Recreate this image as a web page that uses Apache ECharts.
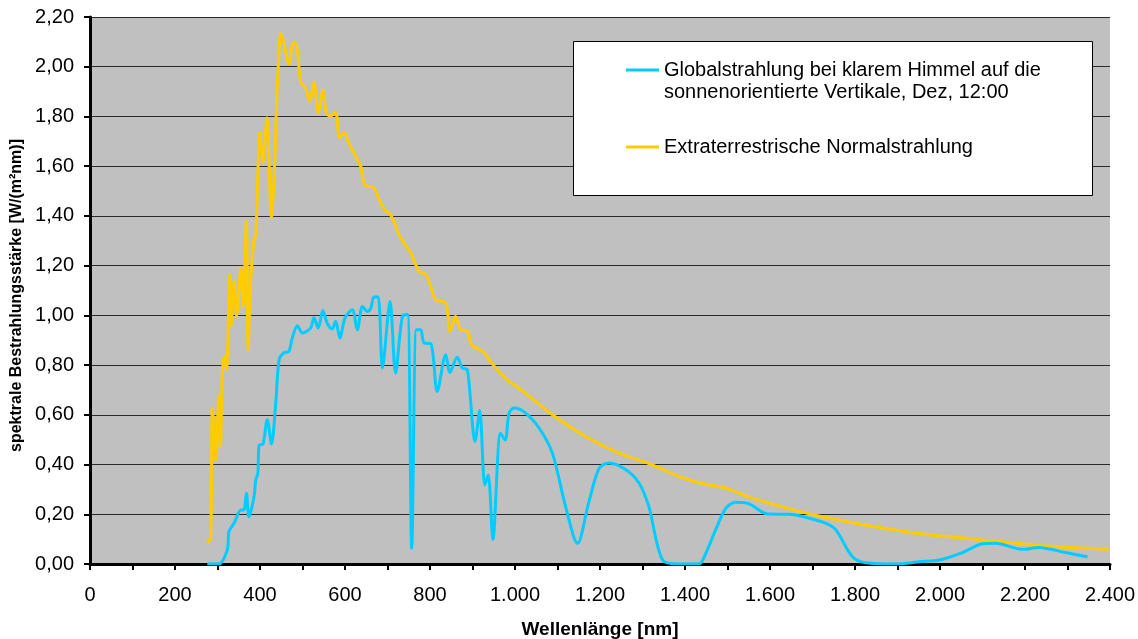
<!DOCTYPE html>
<html>
<head>
<meta charset="utf-8">
<script src="https://cdn.jsdelivr.net/npm/echarts@6/dist/echarts.min.js"></script>
<style>
  html, body { margin: 0; padding: 0; background: #fff; }
  #chart { width: 1138px; height: 639px; }
</style>
</head>
<body>
<div id="chart"></div>
<script>
// Wavelength grid (nm) and spectral irradiance (W/(m²nm)) per series
const globalNm = [276, 303, 323, 327, 339, 355, 362, 368, 374, 386,
  390, 395, 398, 407, 417, 427, 437, 445, 456, 468,
  476, 488, 500, 519, 527, 537, 548, 558, 570, 578,
  588, 600, 617, 629, 641, 653, 661, 668, 678, 688,
  706, 719, 735, 747, 757, 768, 778, 786, 802, 817,
  837, 847, 864, 876, 888, 906, 917, 929, 937, 948,
  966, 977, 986, 998, 1025, 1057, 1088, 1119, 1147, 1174,
  1198, 1221, 1261, 1292, 1315, 1347, 1386, 1433, 1449, 1472,
  1496, 1519, 1551, 1594, 1645, 1684, 1731, 1755, 1794, 1825,
  1896, 1951, 1998, 2053, 2100, 2131, 2194, 2233, 2257, 2296,
  2347];
const globalVal = [0, 0, 0.056, 0.13, 0.164, 0.217, 0.217, 0.285, 0.19, 0.271,
  0.338, 0.365, 0.479, 0.483, 0.58, 0.483, 0.647, 0.822, 0.849, 0.855,
  0.909, 0.958, 0.929, 0.949, 0.990, 0.949, 1.020, 0.969, 0.945, 0.976,
  0.909, 0.990, 1.023, 0.942, 1.036, 1.016, 1.030, 1.074, 1.074, 0.788,
  1.056, 0.768, 0.996, 1.003, 0.063, 0.942, 0.942, 0.889, 0.886, 0.694,
  0.842, 0.770, 0.832, 0.788, 0.781, 0.493, 0.617, 0.318, 0.358, 0.099,
  0.526, 0.499, 0.607, 0.627, 0.607, 0.546, 0.446, 0.231, 0.083, 0.251,
  0.385, 0.406, 0.379, 0.325, 0.231, 0.016, 0, 0, 0.043, 0.137,
  0.224, 0.248, 0.242, 0.201, 0.200, 0.188, 0.164, 0.137, 0.029, 0.005,
  0, 0.009, 0.016, 0.046, 0.081, 0.083, 0.059, 0.066, 0.06, 0.046,
  0.029];

const extraNm = [276, 284, 288, 296, 303, 307, 311, 315, 321, 329,
  332, 339, 345, 355, 360, 368, 372, 378, 386, 390,
  396, 399, 407, 416, 427, 435, 438, 443, 449, 456,
  468, 476, 482, 488, 496, 507, 517, 527, 537, 548,
  556, 566, 578, 587, 598, 609, 625, 637, 647, 668,
  680, 696, 707, 731, 755, 774, 790, 802, 813, 837,
  847, 860, 872, 888, 898, 927, 939, 955, 986, 1009,
  1088, 1166, 1245, 1323, 1386, 1433, 1496, 1558, 1715, 1935,
  2092, 2249, 2398];
const extraVal = [0.083, 0.11, 0.627, 0.419, 0.674, 0.472, 0.754, 0.835, 0.781, 1.164,
  0.956, 1.137, 0.996, 1.191, 1.036, 1.379, 0.862, 1.131, 1.305, 1.318,
  1.627, 1.735, 1.614, 1.795, 1.392, 1.627, 1.801, 2.003, 2.134, 2.097,
  2.010, 2.090, 2.097, 2.063, 1.936, 1.916, 1.862, 1.938, 1.815, 1.905,
  1.815, 1.801, 1.818, 1.714, 1.735, 1.694, 1.640, 1.600, 1.524, 1.513,
  1.466, 1.419, 1.406, 1.312, 1.251, 1.177, 1.164, 1.117, 1.063, 1.050,
  0.936, 0.996, 0.942, 0.936, 0.882, 0.851, 0.822, 0.788, 0.734, 0.708,
  0.600, 0.513, 0.446, 0.399, 0.352, 0.327, 0.305, 0.265, 0.193, 0.126,
  0.099, 0.072, 0.059];

const seriesNames = [
  'Globalstrahlung bei klarem Himmel auf die\nsonnenorientierte Vertikale, Dez, 12:00',
  'Extraterrestrische Normalstrahlung'
];
const xTitle = 'Wellenlänge [nm]';
const yTitle = 'spektrale Bestrahlungsstärke [W/(m²nm)]';

const FONT = "'Liberation Sans', Arial, sans-serif";
const BLUE = '#00CCFF';
const YELLOW = '#FFCC00';

const pairs = (xs, ys) => xs.map((x, i) => [x, ys[i]]);

const chart = echarts.init(document.getElementById('chart'), null, { renderer: 'canvas' });

chart.setOption({
  animation: false,
  textStyle: { fontFamily: FONT, color: '#000' },
  grid: {
    left: 90, right: 28, top: 17, bottom: 75,
    outerBoundsMode: 'none',
    containLabel: false,
    show: true, backgroundColor: '#C0C0C0', borderWidth: 0
  },
  graphic: [{
    type: 'rect',
    z: 3,
    shape: { x: 573.5, y: 41.5, width: 519, height: 154 },
    style: { fill: '#fff', stroke: '#000', lineWidth: 1 }
  }],
  legend: {
    orient: 'vertical',
    left: 626,
    top: 37,
    padding: 0,
    itemGap: 33,
    itemWidth: 33,
    itemHeight: 3,
    icon: 'rect',
    z: 5,
    textStyle: { fontFamily: FONT, fontSize: 20, color: '#000', lineHeight: 22 },
    // multi-line entry: a leading empty line keeps the first text line level with its swatch
    formatter: name => (name.indexOf('\n') >= 0 ? ' \n' + name : name),
    data: seriesNames
  },
  xAxis: {
    type: 'value',
    min: 0,
    max: 2400,
    interval: 200,
    name: xTitle,
    nameLocation: 'middle',
    nameGap: 56,
    nameTextStyle: { fontFamily: FONT, fontSize: 19, fontWeight: 'bold', color: '#000' },
    axisLine: { show: true, onZero: false, lineStyle: { color: '#000', width: 3 } },
    axisTick: { show: true, length: 6, lineStyle: { color: '#000', width: 2 } },
    minorTick: { show: true, splitNumber: 2, length: 6, lineStyle: { color: '#000', width: 2 } },
    splitLine: { show: false },
    axisLabel: {
      margin: 21,
      fontFamily: FONT, fontSize: 20, color: '#000',
      formatter: v => v.toLocaleString('de-DE')
    }
  },
  yAxis: {
    type: 'value',
    min: 0,
    max: 2.2,
    interval: 0.2,
    name: yTitle,
    nameLocation: 'middle',
    nameGap: 62,
    nameTextStyle: { fontFamily: FONT, fontSize: 16, fontWeight: 'bold', color: '#000', padding: [0, 10, 0, 0] },
    axisLine: { show: true, lineStyle: { color: '#000', width: 3 } },
    axisTick: { show: true, length: 6, lineStyle: { color: '#000', width: 2 } },
    splitLine: { show: true, lineStyle: { color: '#2a2a2a', width: 1 } },
    axisLabel: {
      margin: 16,
      fontFamily: FONT, fontSize: 20, color: '#000',
      formatter: v => v.toFixed(2).replace('.', ',')
    }
  },
  series: [
    {
      name: seriesNames[0],
      type: 'line',
      data: pairs(globalNm, globalVal),
      showSymbol: false,
      symbol: 'none',
      smooth: 0.3,
      lineStyle: { color: BLUE, width: 3 },
      itemStyle: { color: BLUE },
      z: 3
    },
    {
      name: seriesNames[1],
      type: 'line',
      data: pairs(extraNm, extraVal),
      showSymbol: false,
      symbol: 'none',
      smooth: 0.3,
      lineStyle: { color: YELLOW, width: 3 },
      itemStyle: { color: YELLOW },
      z: 2
    }
  ]
});
</script>
</body>
</html>
